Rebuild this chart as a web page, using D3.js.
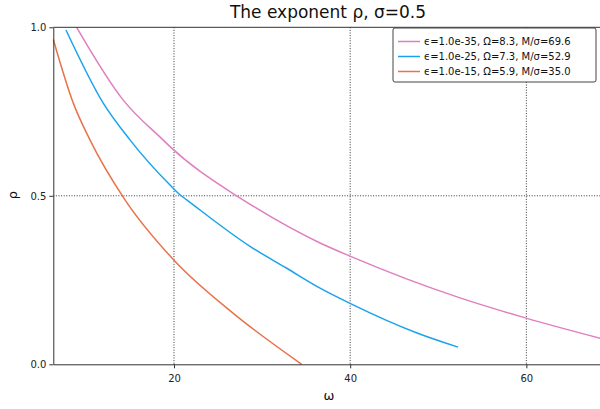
<!DOCTYPE html>
<html lang="en">
  <head>
    <meta charset="UTF-8" />
    <title>The exponent rho</title>
    <script src="https://d3js.org/d3.v7.min.js"></script>
    <style>
      body { margin: 0; background: #fff; }
      svg { font-family: "DejaVu Sans", sans-serif; }
    </style>
  </head>
  <body>
    <svg id="chart" width="600" height="409"></svg>
    <script>
      // series: [omega, rho]
      const pinkPts = [[8.95,1.0],[14.24,0.784],[18.75,0.666],[19.55,0.646],[26.93,0.503],[27.83,0.488],
        [36.58,0.36],[39.98,0.321],[52.47,0.197],[59.97,0.137],[68.7,0.075]];
      const bluePts = [[7.74,0.992],[11.97,0.775],[15.0,0.666],[19.55,0.532],[20.68,0.503],[21.44,0.488],
        [28.63,0.35],[32.8,0.285],[36.58,0.226],[39.98,0.181],[47.59,0.093],[52.25,0.051]];
      const orangePts = [[6.3,0.964],[8.57,0.775],[10.46,0.666],[14.44,0.488],[20.0,0.309],[26.7,0.152],[34.5,0.0]];

      const labels = ["ϵ=1.0e-35, Ω=8.3, M/σ=69.6", "ϵ=1.0e-25, Ω=7.3, M/σ=52.9", "ϵ=1.0e-15, Ω=5.9, M/σ=35.0"];
      const colors = ["#e07fc0", "#1aa3ec", "#e8734a"];
      const xTicks = [20, 40, 60];
      const yTicks = [0.0, 0.5, 1.0];

      const series = [pinkPts, bluePts, orangePts];

      const padL = 53.3, padR = 603, padT = 27.3, padB = 364.3;
      const svg = d3.select("#chart");

      const x = d3.scaleLinear().domain([6.3, 68.7]).range([padL, padR]);
      const y = d3.scaleLinear().domain([0, 1]).range([padB, padT]);

      // grid
      svg.append("g").selectAll("line").data(xTicks).enter().append("line")
        .attr("x1", d => x(d)).attr("x2", d => x(d)).attr("y1", padT).attr("y2", padB)
        .attr("stroke", "#000").attr("stroke-width", 0.8).attr("stroke-dasharray", "1,1.6");
      svg.append("g").selectAll("line").data([0.5]).enter().append("line")
        .attr("x1", padL).attr("x2", padR).attr("y1", d => y(d)).attr("y2", d => y(d))
        .attr("stroke", "#000").attr("stroke-width", 0.8).attr("stroke-dasharray", "1,1.6");

      // lines
      const line = d3.line().x(d => x(d[0])).y(d => y(d[1])).curve(d3.curveMonotoneX);
      svg.append("g").selectAll("path").data(series).enter().append("path")
        .attr("d", line)
        .attr("fill", "none")
        .attr("stroke", (d, i) => colors[i])
        .attr("stroke-width", 1.5);

      // axes
      const xAxis = d3.axisBottom(x).tickValues(xTicks).tickFormat(d3.format("d")).tickSize(4).tickSizeOuter(0);
      const yAxis = d3.axisLeft(y).tickValues(yTicks).tickFormat(d3.format(".1f")).tickSize(4).tickSizeOuter(0);
      const gx = svg.append("g").attr("transform", `translate(0,${padB})`).call(xAxis);
      const gy = svg.append("g").attr("transform", `translate(${padL},0)`).call(yAxis);
      [gx, gy].forEach(g => {
        g.select(".domain").attr("stroke", "#333").attr("stroke-width", 1);
        g.selectAll(".tick line").attr("stroke", "#333");
        g.selectAll(".tick text").attr("font-size", 10).attr("fill", "#222")
          .attr("font-family", "DejaVu Sans");
      });
      gx.selectAll(".tick text").attr("dy", "1.1em");

      // top spine
      svg.append("line").attr("x1", padL).attr("x2", padR).attr("y1", padT).attr("y2", padT)
        .attr("stroke", "#333").attr("stroke-width", 1);

      // titles
      svg.append("text").attr("x", 328).attr("y", 18).attr("text-anchor", "middle")
        .attr("font-size", 17).attr("fill", "#111").text("The exponent ρ, σ=0.5");
      svg.append("text").attr("x", 329).attr("y", 400).attr("text-anchor", "middle")
        .attr("font-size", 13).attr("fill", "#111").text("ω");
      svg.append("text").attr("transform", "translate(17,195) rotate(-90)").attr("text-anchor", "middle")
        .attr("font-size", 13).attr("fill", "#111").text("ρ");

      // legend
      const lg = svg.append("g").attr("transform", "translate(393,28)");
      lg.append("rect").attr("width", 203).attr("height", 54).attr("rx", 2)
        .attr("fill", "#fff").attr("stroke", "#444").attr("stroke-width", 1);
      labels.forEach((t, i) => {
        const yy = 13.5 + i * 15;
        lg.append("line").attr("x1", 5).attr("x2", 27).attr("y1", yy).attr("y2", yy)
          .attr("stroke", colors[i]).attr("stroke-width", 1.5);
        lg.append("text").attr("x", 31).attr("y", yy + 3.5).attr("font-size", 10)
          .attr("fill", "#111").text(t);
      });
    </script>
  </body>
</html>
